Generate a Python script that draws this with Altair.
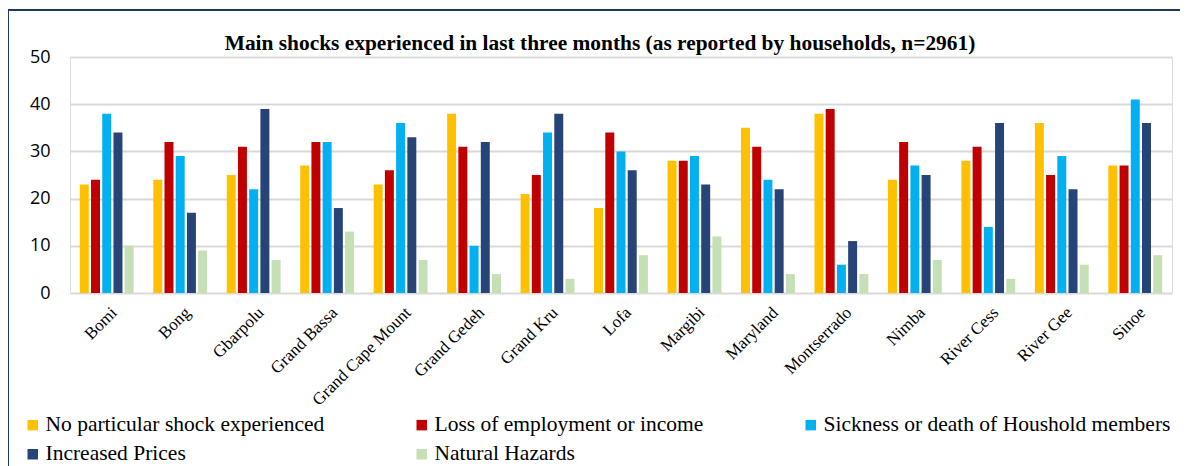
import altair as alt
import pandas as pd

counties = ["Bomi", "Bong", "Gbarpolu", "Grand Bassa", "Grand Cape Mount", "Grand Gedeh",
            "Grand Kru", "Lofa", "Margibi", "Maryland", "Montserrado", "Nimba",
            "River Cess", "River Gee", "Sinoe"]
shocks = ["No particular shock experienced", "Loss of employment or income",
          "Sickness or death of Houshold members", "Increased Prices", "Natural Hazards"]
colors = ["#FFC000", "#C00000", "#00B0F0", "#264478", "#C5E0B4"]

no_shock = [23, 24, 25, 27, 23, 38, 21, 18, 28, 35, 38, 24, 28, 36, 27]
loss_income = [24, 32, 31, 32, 26, 31, 25, 34, 28, 31, 39, 32, 31, 25, 27]
sickness = [38, 29, 22, 32, 36, 10, 34, 30, 29, 24, 6, 27, 14, 29, 41]
prices = [34, 17, 39, 18, 33, 32, 38, 26, 23, 22, 11, 25, 36, 22, 36]
hazards = [10, 9, 7, 13, 7, 4, 3, 8, 12, 4, 4, 7, 3, 6, 8]

series = [no_shock, loss_income, sickness, prices, hazards]
rows = []
for s, vals in zip(shocks, series):
    for c, v in zip(counties, vals):
        rows.append({"county": c, "shock": s, "value": v})
df = pd.DataFrame(rows)

title = "Main shocks experienced in last three months (as reported by households, n=2961)"

bars = alt.Chart(df).mark_bar().encode(
    x=alt.X("county:N", sort=counties,
            scale=alt.Scale(paddingInner=0.267, paddingOuter=0.1335),
            axis=alt.Axis(title=None, labelAngle=-45, labelFont="Liberation Serif",
                          labelFontSize=17, labelColor="#000000", ticks=False,
                          domain=False, labelPadding=11, labelOffset=2)),
    xOffset=alt.XOffset("shock:N", sort=shocks, scale=alt.Scale(paddingInner=0.2)),
    y=alt.Y("value:Q", scale=alt.Scale(domain=[0, 50]),
            axis=alt.Axis(title=None, values=[0, 10, 20, 30, 40, 50], domain=False,
                          ticks=False, gridColor="#D9D9D9", gridWidth=2,
                          labelFont="Open Sans", labelFontSize=18, labelColor="#000000",
                          labelPadding=20)),
    color=alt.Color("shock:N", sort=shocks,
                    scale=alt.Scale(domain=shocks, range=colors),
                    legend=alt.Legend(orient="none", legendX=-48, legendY=357,
                                      direction="horizontal", columns=3, title=None,
                                      symbolType="square", symbolSize=110,
                                      symbolStrokeWidth=0, labelFont="Liberation Serif",
                                      labelFontSize=21.5, labelColor="#000000",
                                      labelOffset=2, columnPadding=18, rowPadding=6.5,
                                      gridAlign="all", labelLimit=600)),
)

one = pd.DataFrame({"k": [0]})
left_line = alt.Chart(one).mark_rule(color="#1F3864", strokeWidth=2).encode(
    x=alt.value(-62), y=alt.value(-47), y2=alt.value(500))
top_line = alt.Chart(one).mark_rule(color="#1F3864", strokeWidth=2).encode(
    x=alt.value(-62), x2=alt.value(1200), y=alt.value(-47))
title_text = alt.Chart(one).mark_text(
    text=title, font="Liberation Serif", fontSize=21.4, fontWeight="bold",
    color="#000000", align="center", baseline="alphabetic").encode(
    x=alt.value(530), y=alt.value(-7))

chart = alt.layer(bars, left_line, top_line, title_text).properties(
    width=1102, height=236,
    autosize=alt.AutoSizeParams(type="none"),
    padding={"left": 62, "top": 49, "right": 8, "bottom": 173},
).configure_view(stroke=None).configure(background="#FFFFFF")

chart.save("out.html", embed_options={"renderer": "svg", "actions": False})
